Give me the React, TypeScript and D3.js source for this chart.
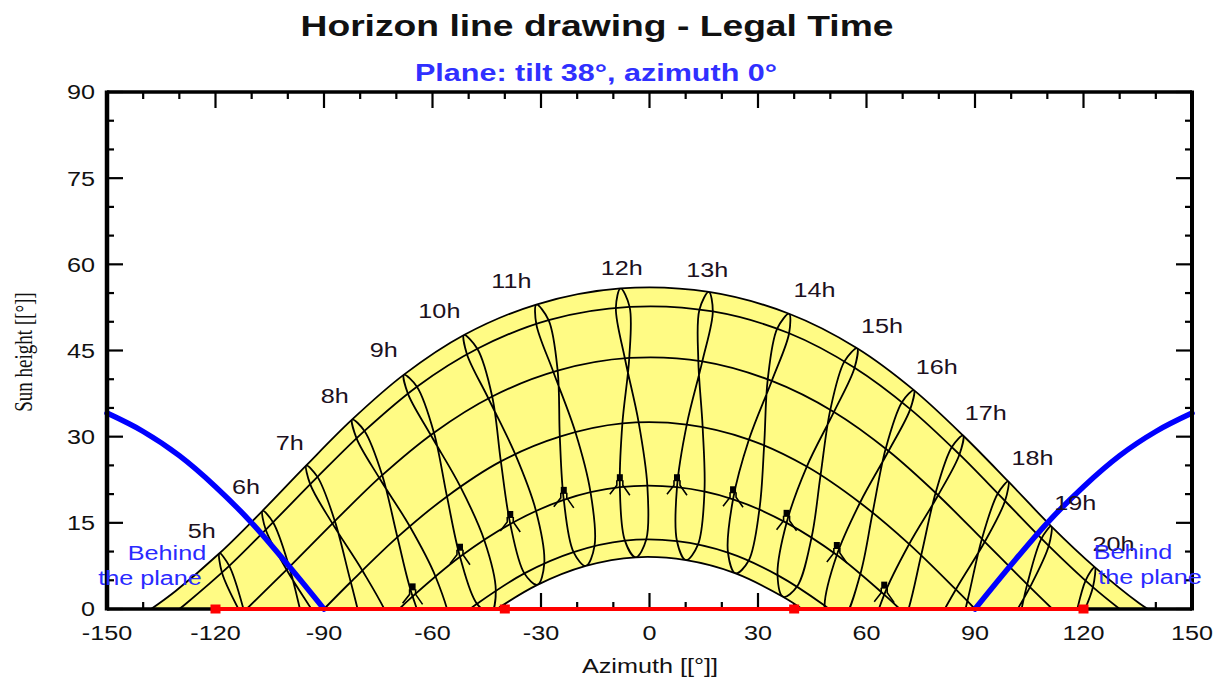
import React from "react";
import * as d3 from "d3";

// dates of the sun paths (PVsyst order), columns of the tables below
const dateLabels = ["22 Dec", "19 Jan", "21 Feb", "20 Mar", "20 Apr", "22 May", "22 Jun", "23 Jul", "23 Aug", "23 Sep", "23 Oct", "22 Nov"];
// legal hours, rows of the tables below
const hourList = [4, 5, 6, 7, 8, 9, 10, 11, 12, 13, 14, 15, 16, 17, 18, 19, 20, 21];
// hours that get a drawn hour line + label
const labelHours = [5, 6, 7, 8, 9, 10, 11, 12, 13, 14, 15, 16, 17, 18, 19, 20];

// sun azimuth [°] per hour (rows) and date (columns)
const sunAz = [
  [-106.1, -111.1, -117.6, -121.8, -125.1, -128.6, -131.1, -130.6, -125.8, -118.3, -110.6, -105.3],
  [-92.6, -97.2, -103.6, -108.2, -112.1, -116.2, -118.9, -118.2, -112.9, -104.9, -97.2, -91.9],
  [-80.2, -84.5, -90.6, -95.3, -99.6, -104.1, -107.0, -106.1, -100.3, -92.1, -84.5, -79.5],
  [-68.2, -72.3, -78.1, -82.6, -87.0, -91.8, -94.9, -93.8, -87.7, -79.4, -72.0, -67.4],
  [-56.2, -60.2, -65.5, -69.7, -73.9, -78.8, -82.2, -81.0, -74.7, -66.3, -59.2, -55.1],
  [-43.9, -47.7, -52.4, -56.0, -59.6, -64.3, -67.9, -66.8, -60.4, -52.3, -45.7, -42.5],
  [-31.0, -34.6, -38.5, -41.1, -43.5, -47.6, -51.3, -50.5, -44.5, -37.1, -31.4, -29.1],
  [-17.6, -21.0, -23.7, -24.8, -25.4, -27.9, -31.3, -31.3, -26.6, -20.5, -16.3, -15.2],
  [-3.8, -6.8, -8.2, -7.5, -5.6, -5.5, -8.0, -9.3, -6.8, -3.0, -0.6, -0.9],
  [10.1, 7.6, 7.6, 10.3, 14.6, 17.5, 16.4, 13.8, 13.5, 14.7, 15.2, 13.4],
  [23.8, 21.7, 23.1, 27.5, 33.8, 38.6, 38.6, 35.3, 32.7, 31.7, 30.4, 27.4],
  [37.0, 35.4, 37.9, 43.5, 51.0, 56.7, 57.4, 53.9, 50.0, 47.3, 44.8, 40.8],
  [49.6, 48.4, 51.8, 58.2, 66.1, 72.1, 73.1, 69.8, 65.3, 61.7, 58.3, 53.5],
  [61.7, 60.9, 64.9, 71.8, 79.8, 85.7, 86.7, 83.6, 79.1, 75.1, 71.1, 65.8],
  [73.6, 73.0, 77.5, 84.7, 92.7, 98.3, 99.2, 96.3, 91.9, 87.9, 83.6, 77.9],
  [85.7, 85.2, 90.1, 97.4, 105.2, 110.4, 111.1, 108.4, 104.4, 100.6, 96.3, 90.3],
  [98.6, 98.0, 103.0, 110.3, 117.8, 122.6, 123.1, 120.6, 117.1, 113.7, 109.6, 103.5],
  [112.9, 112.0, 117.0, 124.0, 131.1, 135.2, 135.4, 133.1, 130.3, 127.7, 124.3, 118.2],
];

// sun height [°], same layout
const sunH = [
  [-37.7, -36.7, -29.0, -18.5, -7.5, 0.7, 3.1, -0.3, -7.9, -16.8, -25.4, -33.6],
  [-29.8, -28.9, -21.4, -11.3, -0.4, 7.5, 9.7, 6.3, -0.9, -9.3, -17.6, -25.6],
  [-21.7, -20.9, -13.5, -3.4, 7.3, 15.1, 17.1, 13.8, 6.8, -1.4, -9.5, -17.6],
  [-14.0, -13.0, -5.5, 4.7, 15.3, 23.0, 25.0, 21.7, 14.9, 6.7, -1.7, -9.9],
  [-6.9, -5.6, 2.2, 12.5, 23.3, 31.0, 33.0, 29.7, 22.8, 14.4, 5.7, -2.8],
  [-0.7, 0.9, 9.1, 19.6, 30.7, 38.7, 40.8, 37.5, 30.2, 21.3, 12.0, 3.2],
  [4.2, 6.2, 14.8, 25.7, 37.0, 45.3, 47.7, 44.4, 36.6, 26.9, 17.1, 7.9],
  [7.5, 9.9, 19.0, 30.0, 41.5, 50.3, 53.0, 49.6, 41.3, 30.8, 20.3, 11.0],
  [9.0, 11.9, 21.2, 32.3, 43.7, 52.6, 55.8, 52.4, 43.6, 32.5, 21.5, 12.1],
  [8.5, 11.8, 21.2, 32.1, 43.1, 51.8, 55.2, 52.1, 43.2, 31.6, 20.5, 11.2],
  [6.2, 9.8, 19.1, 29.5, 39.7, 48.0, 51.4, 48.8, 40.0, 28.5, 17.4, 8.4],
  [2.1, 5.9, 15.0, 24.8, 34.3, 42.0, 45.4, 43.1, 34.7, 23.3, 12.4, 3.9],
  [-3.4, 0.6, 9.4, 18.5, 27.5, 34.8, 38.1, 36.0, 27.9, 16.8, 6.1, -2.0],
  [-10.0, -6.0, 2.5, 11.3, 19.8, 26.9, 30.2, 28.2, 20.2, 9.3, -1.1, -8.9],
  [-17.5, -13.4, -5.1, 3.4, 11.7, 18.8, 22.2, 20.1, 12.2, 1.4, -9.0, -16.6],
  [-25.4, -21.3, -13.1, -4.7, 3.8, 11.0, 14.4, 12.3, 4.2, -6.7, -17.0, -24.6],
  [-33.4, -29.4, -21.1, -12.5, -3.7, 3.8, 7.3, 5.0, -3.3, -14.4, -24.9, -32.6],
  [-41.2, -37.1, -28.7, -19.6, -10.3, -2.4, 1.0, -1.5, -10.0, -21.3, -32.0, -40.1],
];

// sunrise / sunset azimuth (±) of the 7 day curves, 22 Dec .. 22 Jun
const sunriseAz = [42.2, 49.6, 69.2, 90.0, 111.4, 130.0, 137.8];

// hour label anchors [az, h]
const labelAz = [-123.8, -111.6, -99.5, -87.0, -73.5, -58.1, -38.2, -7.7, 16.0, 45.6, 64.3, 79.4, 93.0, 105.9, 117.7, 128.3];
const labelH = [13.6, 21.3, 29.0, 37.2, 45.1, 52.0, 57.2, 59.4, 59.1, 55.6, 49.4, 42.2, 34.1, 26.4, 18.6, 11.4];

// "behind the plane" limit for tilt 38°, azimuth 0°
const behindAz = [-150, -140, -130, -120, -110, -100, -90];
const behindH = [34.1, 30.9, 26.7, 21.3, 15.0, 7.7, 0];

// far horizon (red) points
const horizonAz = [-120, -40, 40, 120];

const xTicks = [-150, -120, -90, -60, -30, 0, 30, 60, 90, 120, 150];
const yTicks = [0, 15, 30, 45, 60, 75, 90];

const W = 1226;
const H = 682;
const L = 107, R = 1192, T = 92, B = 609;
const FONT = "'Liberation Sans', Arial, sans-serif";
const BLUE_TXT = "#2a2aff";

const Txt = ({ x, y, size, anchor = "middle", weight = "normal", fill = "#111", sx = 1.2, dy, children }: any) => (
  <text
    transform={`translate(${x},${y}) scale(${sx},1)`}
    textAnchor={anchor}
    fontSize={size}
    fontWeight={weight}
    fontFamily={FONT}
    fill={fill}
    dy={dy}
  >
    {children}
  </text>
);

export default function App() {
  const x = d3.scaleLinear().domain([-150, 150]).range([L, R]);
  const y = d3.scaleLinear().domain([0, 90]).range([B, T]);

  const line = d3
    .line<[number, number]>()
    .x((d) => x(d[0]))
    .y((d) => y(d[1]))
    .curve(d3.curveCatmullRom.alpha(0.5));
  const loop = d3
    .line<[number, number]>()
    .x((d) => x(d[0]))
    .y((d) => y(d[1]))
    .curve(d3.curveCatmullRomClosed.alpha(0.5));
  const smooth = d3
    .line<[number, number]>()
    .x((d) => x(d[0]))
    .y((d) => y(d[1]))
    .curve(d3.curveMonotoneX);

  // day curves: points of dates 0..6 that are above the horizon
  const dayCurves = sunriseAz.map((sr, di) => {
    const pts: [number, number][] = [[-sr, 0]];
    hourList.forEach((_, hi) => {
      if (sunH[hi][di] > 0) pts.push([sunAz[hi][di], sunH[hi][di]]);
    });
    pts.push([sr, 0]);
    return pts;
  });

  const summer = dayCurves[6];
  const winter = dayCurves[0].slice().reverse();
  const band = (line(summer) as string) + (line(winter) as string).replace(/^M/, "L") + "Z";

  const hourLoops = labelHours.map((h) => {
    const hi = hourList.indexOf(h);
    return dateLabels.map((_, di) => [sunAz[hi][di], sunH[hi][di]] as [number, number]);
  });

  // turning marks of the hour lines at the 21 Feb points
  const feb = dateLabels.indexOf("21 Feb");
  const febMarks = labelHours
    .map((h) => hourList.indexOf(h))
    .filter((hi) => sunH[hi][feb] > 0)
    .map((hi) => [x(sunAz[hi][feb]), y(sunH[hi][feb])]);

  const behindLeft = behindAz.map((a, i) => [a, behindH[i]] as [number, number]);
  const behindRight = behindAz.map((a, i) => [-a, behindH[i]] as [number, number]).reverse();

  const xMinor = d3.range(-150, 151, 10).filter((v) => v % 30 !== 0);
  const yMinor = d3.range(0, 91, 5).filter((v) => v % 15 !== 0);

  return (
    <div style={{ position: "absolute", left: 0, top: 0 }}>
      <svg width={W} height={H} style={{ display: "block", background: "#fff" }}>
        <defs>
          <clipPath id="bandClip">
            <path d={band} />
          </clipPath>
        </defs>

        {/* ticks (under the fill) */}
        <g stroke="#000" strokeWidth={2.2}>
          {xTicks.map((t) => (
            <g key={"xt" + t}>
              <line x1={x(t)} x2={x(t)} y1={B} y2={B - 16} />
              <line x1={x(t)} x2={x(t)} y1={T} y2={T + 16} />
            </g>
          ))}
          {xMinor.map((t) => (
            <g key={"xm" + t}>
              <line x1={x(t)} x2={x(t)} y1={B} y2={B - 7} />
              <line x1={x(t)} x2={x(t)} y1={T} y2={T + 7} />
            </g>
          ))}
          {yTicks.map((t) => (
            <g key={"yt" + t}>
              <line x1={L} x2={L + 16} y1={y(t)} y2={y(t)} />
              <line x1={R} x2={R - 16} y1={y(t)} y2={y(t)} />
            </g>
          ))}
          {yMinor.map((t) => (
            <g key={"ym" + t}>
              <line x1={L} x2={L + 7} y1={y(t)} y2={y(t)} />
              <line x1={R} x2={R - 7} y1={y(t)} y2={y(t)} />
            </g>
          ))}
        </g>

        {/* yellow band between the solstices */}
        <path d={band} fill="#fffb84" stroke="none" />

        {/* hour lines (analemmas) */}
        <g clipPath="url(#bandClip)" fill="none" stroke="#000" strokeWidth={1.8}>
          {hourLoops.map((pts, i) => (
            <path key={"hl" + i} d={loop(pts) as string} />
          ))}
          {febMarks.map(([px, py], i) => (
            <g key={"fm" + i}>
              <rect x={px - 3} y={py - 13} width={6} height={7} fill="#000" stroke="none" />
              <path d={`M${px - 3},${py - 7}L${px - 3},${py - 2}L${px - 10},${py + 7}`} strokeWidth={1.6} />
              <path d={`M${px + 3},${py - 7}L${px + 3},${py - 2}L${px + 10},${py + 8}`} strokeWidth={1.6} />
            </g>
          ))}
        </g>

        {/* day curves */}
        <g fill="none" stroke="#000" strokeWidth={1.8}>
          {dayCurves.map((pts, i) => (
            <path key={"dc" + i} d={line(pts) as string} />
          ))}
        </g>

        {/* behind the plane */}
        <g fill="none" stroke="#0000ff" strokeWidth={5.5} strokeLinecap="round">
          <path d={smooth(behindLeft) as string} />
          <path d={smooth(behindRight) as string} />
        </g>

        {/* frame */}
        <g stroke="#000" fill="none">
          <line x1={L} x2={R} y1={T} y2={T} strokeWidth={3.5} />
          <line x1={L} x2={R} y1={B} y2={B} strokeWidth={3.5} />
          <line x1={L} x2={L} y1={T - 1.5} y2={B + 1.5} strokeWidth={4.5} />
          <line x1={R} x2={R} y1={T - 1.5} y2={B + 1.5} strokeWidth={4} />
        </g>

        {/* far horizon */}
        <line x1={x(horizonAz[0])} x2={x(horizonAz[horizonAz.length - 1])} y1={y(0)} y2={y(0)} stroke="#ff0000" strokeWidth={4} />
        {horizonAz.map((a) => (
          <rect key={"hz" + a} x={x(a) - 5} y={y(0) - 4.5} width={10} height={9} fill="#ff0000" />
        ))}

        {/* hour labels */}
        {labelHours.map((h, i) => (
          <Txt key={"lb" + h} x={x(labelAz[i])} y={y(labelH[i])} size={21} dy="0.35em" fill="#1c1020">
            {h + "h"}
          </Txt>
        ))}

        {/* behind the plane labels */}
        <Txt x={167} y={560} size={21} fill={BLUE_TXT}>Behind</Txt>
        <Txt x={150} y={585} size={21} fill={BLUE_TXT}>the plane</Txt>
        <Txt x={1133} y={559} size={21} fill={BLUE_TXT}>Behind</Txt>
        <Txt x={1150} y={584} size={21} fill={BLUE_TXT}>the plane</Txt>

        {/* tick labels */}
        {xTicks.map((t) => (
          <Txt key={"xl" + t} x={x(t)} y={640} size={21}>
            {String(t)}
          </Txt>
        ))}
        {yTicks.map((t) => (
          <Txt key={"yl" + t} x={95} y={y(t)} size={21} anchor="end" dy="0.35em">
            {String(t)}
          </Txt>
        ))}

        {/* titles */}
        <text x={597} y={36} textAnchor="middle" fontFamily={FONT} fontWeight="bold" fontSize={30} textLength={593} lengthAdjust="spacingAndGlyphs" fill="#111">
          Horizon line drawing - Legal Time
        </text>
        <text x={596} y={81} textAnchor="middle" fontFamily={FONT} fontWeight="bold" fontSize={23} textLength={362} lengthAdjust="spacingAndGlyphs" fill="#3030ff">
          Plane: tilt 38°, azimuth 0°
        </text>
        <Txt x={650} y={673} size={21}>Azimuth [[°]]</Txt>
        <text
          transform="translate(32,352) rotate(-90) scale(1,1.3)"
          textAnchor="middle"
          fontFamily="'Liberation Serif', 'Times New Roman', serif"
          fontSize={19}
          fill="#111"
        >
          Sun height [[°]]
        </text>
      </svg>
    </div>
  );
}
